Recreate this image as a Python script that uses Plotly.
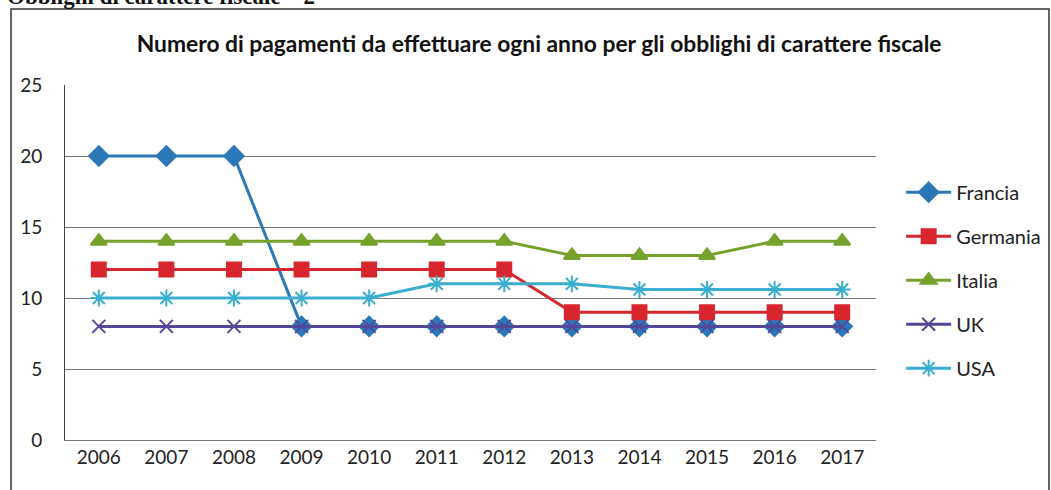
"""
line chart: number of tax payments per year, by country
"""

import plotly.graph_objects as go

years = ["2006", "2007", "2008", "2009", "2010", "2011",
         "2012", "2013", "2014", "2015", "2016", "2017"]
francia = [20, 20, 20, 8, 8, 8, 8, 8, 8, 8, 8, 8]
germania = [12, 12, 12, 12, 12, 12, 12, 9, 9, 9, 9, 9]
italia = [14, 14, 14, 14, 14, 14, 14, 13, 13, 13, 14, 14]
uk = [8, 8, 8, 8, 8, 8, 8, 8, 8, 8, 8, 8]
usa = [10, 10, 10, 10, 10, 11, 11, 11, 10.6, 10.6, 10.6, 10.6]

FONT = "Lato, 'Open Sans', sans-serif"
pltly_cfg = {"displayModeBar": False, "showTips": False}

series = [
    ("Francia", francia, "#2a78b8", "diamond", 15),
    ("Germania", germania, "#d8262f", "square", 14),
    ("Italia", italia, "#76a22c", "triangle-up", 14),
    ("UK", uk, "#54479a", "x-thin-open", 13),
    ("USA", usa, "#3aaed0", "asterisk-open", 14),
]

fig = go.Figure()
for name, vals, col, sym, sz in series:
    fig.add_trace(go.Scatter(x=years, y=vals, name=name, mode="lines+markers",
                             legendgroup=name,
                             line={"color": col, "width": 3},
                             marker={"symbol": sym, "size": sz, "color": col,
                                     "line": {"color": col, "width": 2}}))

fig.update_layout(
    width=1051, height=490,
    paper_bgcolor="white", plot_bgcolor="white",
    margin={"l": 65, "r": 175, "t": 85, "b": 50, "autoexpand": False},
    font={"family": FONT, "size": 19, "color": "#222"},
    title={"text": "<b>Numero di pagamenti da effettuare ogni anno per gli obblighi di carattere fiscale</b>",
           "x": 0.513, "xanchor": "center", "y": 0.91, "yanchor": "middle",
           "font": {"family": FONT, "size": 22.8, "color": "#111"}},
    legend={"x": 1.031, "y": 0.753, "xanchor": "left", "yanchor": "top",
            "font": {"family": FONT, "size": 20, "color": "#222"},
            "tracegroupgap": 15, "itemwidth": 45},
    showlegend=True,
    xaxis={"type": "category", "range": [-0.5, 11.5], "showgrid": False, "showline": True,
           "automargin": False, "linecolor": "#777", "linewidth": 1, "ticks": "",
           "tickfont": {"size": 19}},
    yaxis={"range": [0, 25], "dtick": 5, "showgrid": True, "gridcolor": "#777",
           "gridwidth": 1, "showline": True, "linecolor": "#444", "linewidth": 1,
           "automargin": False, "zeroline": False, "ticks": "", "ticklabelstandoff": 18,
           "tickfont": {"size": 19}},
)

# outer chart border of the scanned page
fig.add_shape(type="rect", xref="paper", yref="paper",
              x0=-0.0666, x1=1.2133, y0=-0.16, y1=1.214,
              line={"color": "#333", "width": 1.5}, layer="below")

# caption cut off at the top of the scan
fig.add_annotation(text="<b>Obblighi di carattere fiscale – 2</b>", xref="paper", yref="paper",
                   x=-0.074, y=1.248, xanchor="left", yanchor="middle", showarrow=False,
                   font={"family": "'Liberation Serif', serif", "size": 23, "color": "#111"})

# drop the default 8px body margin so the figure fills the window
fig.write_html("out.html", config=pltly_cfg,
               post_script="document.body.style.margin='0px';")
